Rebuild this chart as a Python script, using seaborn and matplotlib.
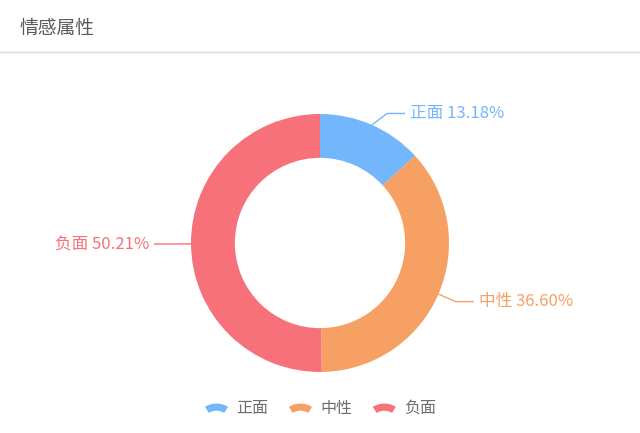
import numpy as np
import seaborn as sns
import matplotlib.pyplot as plt
from matplotlib.patches import Wedge
from matplotlib.legend_handler import HandlerPatch

categories = ['正面', '中性', '负面']
shares = [13.18, 36.60, 50.21]
colors = ['#74b6fb', '#f7a063', '#f7717a']
title = '情感属性'

sns.set_theme(style='white')
plt.rcParams['font.family'] = ['Noto Sans CJK SC', 'DejaVu Sans']

W, H = 640, 433
fig = plt.figure(figsize=(W / 100, H / 100), dpi=100)
ax = fig.add_axes([0, 0, 1, 1])

cx, cy, r = 320, H - 243, 129
wedges, _ = ax.pie(shares, colors=sns.color_palette(colors), startangle=90, counterclock=False,
                   radius=r, center=(cx, cy), frame=True,
                   wedgeprops=dict(width=r * 0.34, edgecolor='white', linewidth=0))
ax.set_xlim(0, W)
ax.set_ylim(0, H)
ax.axis('off')

# leader lines + labels (first segment slope capped like echarts does)
for w, name, val, c in zip(wedges, categories, shares, colors):
    ang = np.deg2rad((w.theta1 + w.theta2) / 2)
    x0, y0 = cx + r * np.cos(ang), cy + r * np.sin(ang)
    side = 1 if np.cos(ang) >= 0 else -1
    tilt = np.clip(np.arctan(np.tan(ang)), -np.deg2rad(37), np.deg2rad(37))
    x1 = x0 + side * 19 * np.cos(tilt)
    y1 = y0 + side * 19 * np.sin(tilt)
    x2 = x1 + side * 18
    ax.plot([x0, x1, x2], [y0, y1, y1], color=c, lw=1, solid_capstyle='butt')
    ax.text(x2 + side * 5, y1, f'{name} {val:.2f}%', color=c, fontsize=12,
            ha='left' if side > 0 else 'right', va='center')

# header
fig.text(19 / W, 1 - 28 / H, title, fontsize=13.5, color='#5a5a5a', va='center', ha='left')
ax.plot([0, W], [H - 51.5, H - 51.5], color='#e6e6e6', lw=1.8)


class FanHandler(HandlerPatch):
    def create_artists(self, legend, orig, xd, yd, width, height, fontsize, trans):
        cxh = xd + width / 2
        rr = width * 0.85
        p = Wedge((cxh, yd - rr + height * 0.8), rr, 58, 122, width=rr * 0.33,
                  facecolor=orig.get_facecolor(), edgecolor='none', transform=trans)
        return [p]


leg = ax.legend(wedges, categories, loc='center', bbox_to_anchor=(0.5, 1 - 408 / H),
                ncol=3, frameon=False, fontsize=11.5, handlelength=1.6, handletextpad=0.45,
                columnspacing=1.2, handler_map={Wedge: FanHandler()})
for t in leg.get_texts():
    t.set_color('#6e6e6e')

fig.savefig('out.png', dpi=100, facecolor='white')
